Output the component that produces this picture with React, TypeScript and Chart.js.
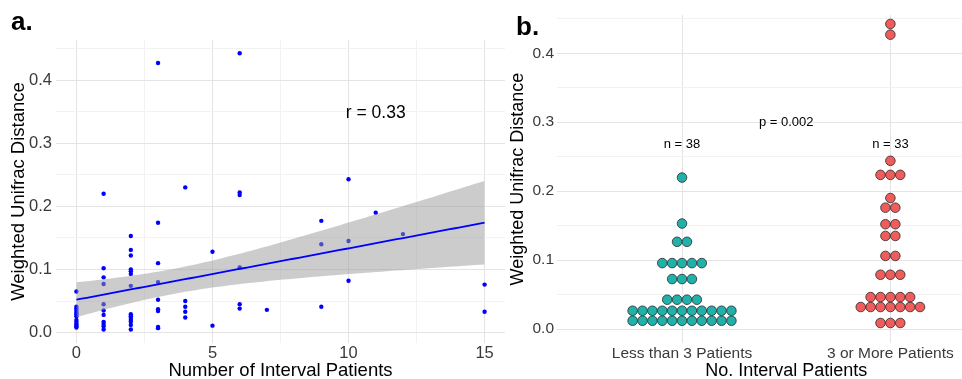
import React, { useEffect, useRef } from "react";
import { Chart, registerables } from "chart.js";

Chart.register(...registerables);

const FONT = '"Liberation Sans", Arial, Helvetica, sans-serif';

// ---------- Panel a: data ----------
const intervalCounts = [0, 1, 2, 3, 4, 5, 6, 7, 9, 10, 11, 12, 15];
const distancesByCount = [
  [0.065, 0.041, 0.038, 0.035, 0.032, 0.029, 0.026, 0.02, 0.017, 0.014, 0.012, 0.01, 0.008],
  [0.22, 0.102, 0.0875, 0.077, 0.045, 0.035, 0.028, 0.017, 0.0135, 0.01, 0.005],
  [0.153, 0.131, 0.122, 0.1, 0.097, 0.093, 0.074, 0.029, 0.026, 0.023, 0.02, 0.017, 0.012, 0.005],
  [0.427, 0.174, 0.11, 0.08, 0.052, 0.037, 0.034, 0.009, 0.007],
  [0.23, 0.05, 0.041, 0.033, 0.024],
  [0.128, 0.011],
  [0.4425, 0.222, 0.218, 0.103, 0.045, 0.038],
  [0.036],
  [0.177, 0.14, 0.041],
  [0.243, 0.145, 0.082],
  [0.19],
  [0.156],
  [0.076, 0.033],
];
const xTicksA = [0, 2.5, 5, 7.5, 10, 12.5, 15];
const yTicks = [0, 0.05, 0.1, 0.15, 0.2, 0.25, 0.3, 0.35, 0.4, 0.45];
const corrLabel = "r = 0.33";
const xTitleA = "Number of Interval Patients";
const yTitle = "Weighted Unifrac Distance";

// ---------- Panel b: data (dot-plot bins) ----------
const groupLabels = ["Less than 3 Patients", "3 or More Patients"];
const groupColors = ["#20B2AA", "#EE5C5C"];
const lessBinValues = [0.012, 0.0265, 0.0425, 0.0725, 0.0956, 0.1265, 0.153, 0.2197];
const lessBinCounts = [11, 11, 4, 3, 5, 2, 1, 1];
const moreBinValues = [0.0087, 0.0319, 0.0463, 0.0787, 0.106, 0.135, 0.152, 0.176, 0.19, 0.2236, 0.244, 0.427, 0.4425];
const moreBinCounts = [3, 7, 5, 3, 2, 2, 2, 2, 1, 3, 1, 1, 1];
const groupNLabels = ["n = 38", "n = 33"];
const pLabel = "p = 0.002";
const xTitleB = "No. Interval Patients";

const T95 = 1.9949; // t quantile, df = 69

function linearFit(xs: number[], ys: number[]) {
  const n = xs.length;
  const mx = xs.reduce((s, v) => s + v, 0) / n;
  const my = ys.reduce((s, v) => s + v, 0) / n;
  let sxx = 0, sxy = 0;
  for (let i = 0; i < n; i++) {
    sxx += (xs[i] - mx) ** 2;
    sxy += (xs[i] - mx) * (ys[i] - my);
  }
  const b = sxy / sxx;
  const a = my - b * mx;
  let sse = 0;
  for (let i = 0; i < n; i++) sse += (ys[i] - a - b * xs[i]) ** 2;
  const s = Math.sqrt(sse / (n - 2));
  return { a, b, s, n, mx, sxx };
}

const MAJOR = "#e4e4e4";
const MINOR = "#f2f2f2";
const TICK_COLOR = "#3a3a3a";

function textPlugin(items: { text: string; x: number; y: number; size: number }[], panel: { text: string; x: number; y: number }) {
  return {
    id: "texts",
    afterDraw(chart: any) {
      const { ctx } = chart;
      const xs = chart.scales.x;
      const ys = chart.scales.y;
      ctx.save();
      ctx.fillStyle = "#000";
      ctx.textAlign = "center";
      ctx.textBaseline = "middle";
      for (const it of items) {
        ctx.font = `${it.size}px ${FONT}`;
        ctx.fillText(it.text, xs.getPixelForValue(it.x), ys.getPixelForValue(it.y));
      }
      ctx.font = `bold 26px ${FONT}`;
      ctx.textAlign = "left";
      ctx.textBaseline = "alphabetic";
      ctx.fillText(panel.text, panel.x, panel.y);
      ctx.restore();
    },
  };
}

function makeConfigA(): any {
  const xs: number[] = [];
  const ys: number[] = [];
  intervalCounts.forEach((c, i) => distancesByCount[i].forEach((d) => { xs.push(c); ys.push(d); }));
  const points = xs.map((x, i) => ({ x, y: ys[i] }));
  const fit = linearFit(xs, ys);
  const xmin = Math.min(...xs), xmax = Math.max(...xs);
  const grid = Array.from({ length: 80 }, (_, i) => xmin + ((xmax - xmin) * i) / 79);
  const fitted = grid.map((x) => ({ x, y: fit.a + fit.b * x }));
  const half = (x: number) => T95 * fit.s * Math.sqrt(1 / fit.n + (x - fit.mx) ** 2 / fit.sxx);
  const upper = grid.map((x) => ({ x, y: fit.a + fit.b * x + half(x) }));
  const lower = grid.map((x) => ({ x, y: fit.a + fit.b * x - half(x) }));

  return {
    type: "scatter",
    data: {
      datasets: [
        { type: "line", data: fitted, borderColor: "#0000ff", borderWidth: 1.8, pointRadius: 0, fill: false },
        { type: "line", data: upper, borderWidth: 0, borderColor: "rgba(0,0,0,0)", pointRadius: 0, fill: "+1", backgroundColor: "rgba(153,153,153,0.5)" },
        { type: "line", data: lower, borderWidth: 0, borderColor: "rgba(0,0,0,0)", pointRadius: 0, fill: false },
        { type: "scatter", data: points, pointRadius: 2.2, backgroundColor: "#0000ff", borderWidth: 0 },
      ],
    },
    options: {
      responsive: false,
      animation: false,
      events: [],
      layout: { padding: { left: 0, right: 5, top: 40, bottom: 0 } },
      plugins: { legend: { display: false }, tooltip: { enabled: false } },
      scales: {
        x: {
          type: "linear",
          min: -0.75,
          max: 15.75,
          afterBuildTicks: (s: any) => { s.ticks = xTicksA.map((v) => ({ value: v })); },
          afterFit: (s: any) => { s.height = 39; },
          border: { display: false },
          grid: {
            drawTicks: false,
            color: (ctx: any) => (ctx.tick && ctx.tick.value % 5 === 0 ? MAJOR : MINOR),
          },
          ticks: {
            padding: 1,
            color: TICK_COLOR,
            font: { family: FONT, size: 16.5 },
            maxRotation: 0,
            autoSkip: false,
            callback: (v: number) => (v % 5 === 0 ? String(v) : ""),
          },
          title: { display: true, text: xTitleA, color: "#000", font: { family: FONT, size: 18.5 }, padding: { top: 0, bottom: 0 } },
        },
        y: {
          type: "linear",
          min: -0.0165,
          max: 0.4635,
          afterBuildTicks: (s: any) => { s.ticks = yTicks.map((v) => ({ value: v })); },
          afterFit: (s: any) => { s.width = 56; },
          border: { display: false },
          grid: {
            drawTicks: false,
            color: (ctx: any) => (ctx.tick && Math.abs(ctx.tick.value * 10 - Math.round(ctx.tick.value * 10)) < 1e-6 ? MAJOR : MINOR),
          },
          ticks: {
            padding: 4,
            color: TICK_COLOR,
            font: { family: FONT, size: 16.5 },
            autoSkip: false,
            callback: (v: number) => (Math.abs(v * 10 - Math.round(v * 10)) < 1e-6 ? v.toFixed(1) : ""),
          },
          title: { display: true, text: yTitle, color: "#000", font: { family: FONT, size: 18.5 }, padding: { top: 7.5, bottom: 0 } },
        },
      },
    },
    plugins: [textPlugin([{ text: corrLabel, x: 11, y: 0.348, size: 17.5 }], { text: "a.", x: 11, y: 30 })],
  };
}

const DOT_STEP = 10 / 210.9; // horizontal dot spacing in category units

function dotPoints(center: number, values: number[], counts: number[]) {
  const pts: { x: number; y: number }[] = [];
  values.forEach((v, j) => {
    const n = counts[j];
    for (let k = 0; k < n; k++) pts.push({ x: center + (k - (n - 1) / 2) * DOT_STEP, y: v });
  });
  return pts;
}

function makeConfigB(): any {
  const groups = [
    { values: lessBinValues, counts: lessBinCounts },
    { values: moreBinValues, counts: moreBinCounts },
  ];
  return {
    type: "scatter",
    data: {
      datasets: groups.map((g, i) => ({
        data: dotPoints(i + 1, g.values, g.counts),
        pointRadius: 4.8,
        backgroundColor: groupColors[i],
        borderColor: "#2a2a2a",
        borderWidth: 0.8,
      })),
    },
    options: {
      responsive: false,
      animation: false,
      events: [],
      layout: { padding: { left: 0, right: 0, top: 15, bottom: 0 } },
      plugins: { legend: { display: false }, tooltip: { enabled: false } },
      scales: {
        x: {
          type: "linear",
          min: 0.4,
          max: 2.6,
          afterBuildTicks: (s: any) => { s.ticks = groupLabels.map((_, i) => ({ value: i + 1 })); },
          afterFit: (s: any) => { s.height = 39; },
          border: { display: false },
          grid: { drawTicks: false, color: MAJOR },
          ticks: {
            padding: 1,
            color: TICK_COLOR,
            font: { family: FONT, size: 15.5 },
            maxRotation: 0,
            autoSkip: false,
            callback: (v: number) => groupLabels[Math.round(v) - 1] ?? "",
          },
          title: { display: true, text: xTitleB, color: "#000", font: { family: FONT, size: 18 }, padding: { top: 0, bottom: 0 } },
        },
        y: {
          type: "linear",
          min: -0.0203,
          max: 0.4555,
          afterBuildTicks: (s: any) => { s.ticks = yTicks.map((v) => ({ value: v })); },
          afterFit: (s: any) => { s.width = 77; },
          border: { display: false },
          grid: {
            drawTicks: false,
            color: (ctx: any) => (ctx.tick && Math.abs(ctx.tick.value * 10 - Math.round(ctx.tick.value * 10)) < 1e-6 ? MAJOR : MINOR),
          },
          ticks: {
            padding: 3,
            color: TICK_COLOR,
            font: { family: FONT, size: 15.5 },
            autoSkip: false,
            callback: (v: number) => (Math.abs(v * 10 - Math.round(v * 10)) < 1e-6 ? v.toFixed(1) : ""),
          },
          title: { display: true, text: yTitle, color: "#000", font: { family: FONT, size: 18 }, padding: { top: 27.5, bottom: 0 } },
        },
      },
    },
    plugins: [
      textPlugin(
        [
          { text: groupNLabels[0], x: 1, y: 0.268, size: 13 },
          { text: groupNLabels[1], x: 2, y: 0.268, size: 13 },
          { text: pLabel, x: 1.5, y: 0.3, size: 13 },
        ],
        { text: "b.", x: 36, y: 35 }
      ),
    ],
  };
}

export default function App() {
  const refA = useRef<HTMLCanvasElement | null>(null);
  const refB = useRef<HTMLCanvasElement | null>(null);
  useEffect(() => {
    const a = new Chart(refA.current as HTMLCanvasElement, makeConfigA());
    const b = new Chart(refB.current as HTMLCanvasElement, makeConfigB());
    return () => {
      a.destroy();
      b.destroy();
    };
  }, []);
  return (
    <div style={{ position: "fixed", left: 0, top: 0, width: 962, height: 379, overflow: "hidden", background: "#fff" }}>
      <canvas ref={refA} width={510} height={382} style={{ position: "absolute", left: 0, top: 0 }} />
      <canvas ref={refB} width={541} height={382} style={{ position: "absolute", left: 480, top: 0 }} />
    </div>
  );
}
